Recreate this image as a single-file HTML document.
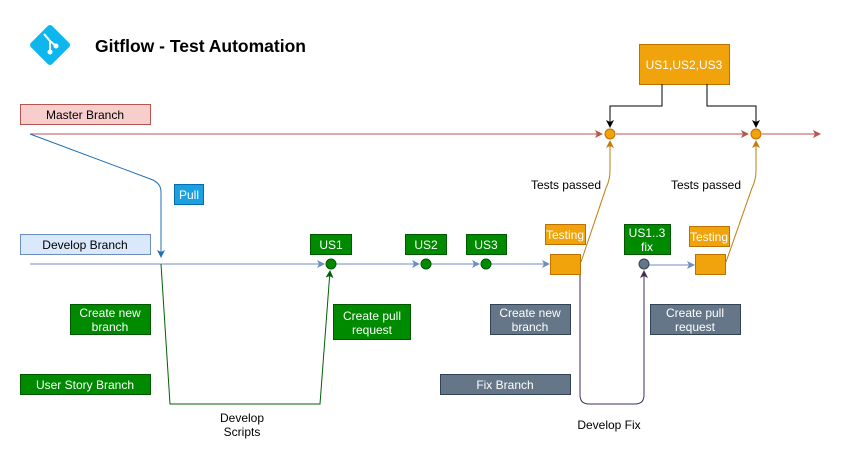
<!DOCTYPE html>
<html><head><meta charset="utf-8"><style>
body{margin:0;background:#fff;width:849px;height:460px;overflow:hidden;font-family:"Liberation Sans",Arial,sans-serif}
</style></head><body>
<svg width="849" height="460" xmlns="http://www.w3.org/2000/svg" font-family="Liberation Sans, Arial, sans-serif">
<defs>
<marker id="ar" markerWidth="8" markerHeight="8" refX="7" refY="4" orient="auto" markerUnits="userSpaceOnUse"><path d="M0,0 L8,4 L0,8 L2,4z" fill="#b85450"/></marker>
<marker id="ab" markerWidth="8" markerHeight="8" refX="7" refY="4" orient="auto" markerUnits="userSpaceOnUse"><path d="M0,0 L8,4 L0,8 L2,4z" fill="#6c8ebf"/></marker>
<marker id="abd" markerWidth="8" markerHeight="8" refX="7" refY="4" orient="auto" markerUnits="userSpaceOnUse"><path d="M0,0 L8,4 L0,8 L2,4z" fill="#1f6fb5"/></marker>
<marker id="ak" markerWidth="8" markerHeight="8" refX="7" refY="4" orient="auto" markerUnits="userSpaceOnUse"><path d="M0,0 L8,4 L0,8 L2,4z" fill="#000"/></marker>
<marker id="ao" markerWidth="8" markerHeight="8" refX="7" refY="4" orient="auto" markerUnits="userSpaceOnUse"><path d="M0,0 L8,4 L0,8 L2,4z" fill="#c37b0d"/></marker>
<marker id="ag" markerWidth="8" markerHeight="8" refX="7" refY="4" orient="auto" markerUnits="userSpaceOnUse"><path d="M0,0 L8,4 L0,8 L2,4z" fill="#006100"/></marker>
<marker id="ap" markerWidth="8" markerHeight="8" refX="7" refY="4" orient="auto" markerUnits="userSpaceOnUse"><path d="M0,0 L8,4 L0,8 L2,4z" fill="#432d57"/></marker>
</defs>
<!-- logo -->
<rect x="35" y="30" width="30" height="30" rx="3" fill="#0db7ed" transform="rotate(45 50 45)"/>
<path d="M44,34 L50,41 L50,52 M50,41 L56,46" stroke="#fff" stroke-width="2" fill="none"/>
<circle cx="50" cy="52" r="2.5" fill="#fff"/><circle cx="56" cy="46" r="2.5" fill="#fff"/>
<text x="95" y="52" font-size="17.5" font-weight="bold" fill="#000">Gitflow - Test Automation</text>
<!-- master -->
<rect x="20.5" y="104.5" width="130" height="20" fill="#f8cecc" stroke="#b85450"/>
<text x="85" y="119" font-size="12" text-anchor="middle">Master Branch</text>
<line x1="30" y1="134" x2="602" y2="134" stroke="#b85450" marker-end="url(#ar)"/>
<line x1="616" y1="134" x2="748" y2="134" stroke="#b85450" marker-end="url(#ar)"/>
<line x1="762" y1="134" x2="820" y2="134" stroke="#b85450" marker-end="url(#ar)"/>
<!-- US box -->
<rect x="639.5" y="44.5" width="90" height="40" fill="#f0a30a" stroke="#bd7000"/>
<text x="684" y="69" font-size="12" fill="#fff" text-anchor="middle">US1,US2,US3</text>
<path d="M662,84 V106 H610 V127" stroke="#000" fill="none" marker-end="url(#ak)"/>
<path d="M707,84 V106 H756 V127" stroke="#000" fill="none" marker-end="url(#ak)"/>
<circle cx="610" cy="134" r="5" fill="#f0a30a" stroke="#bd7000"/>
<circle cx="756" cy="134" r="5" fill="#f0a30a" stroke="#bd7000"/>
<!-- pull -->
<path d="M30,134 L153,180 Q161,184 161,192 V257" stroke="#1f6fb5" fill="none" marker-end="url(#abd)"/>
<rect x="174.5" y="184.5" width="29" height="20" fill="#1ba1e2" stroke="#006eaf"/>
<text x="189" y="199" font-size="12" fill="#fff" text-anchor="middle">Pull</text>
<!-- develop -->
<rect x="20.5" y="234.5" width="130" height="20" fill="#dae8fc" stroke="#6c8ebf"/>
<text x="85" y="249" font-size="12" text-anchor="middle">Develop Branch</text>
<line x1="30" y1="264" x2="324" y2="264" stroke="#6c8ebf" marker-end="url(#ab)"/>
<line x1="336" y1="264" x2="419" y2="264" stroke="#6c8ebf" marker-end="url(#ab)"/>
<line x1="431" y1="264" x2="479" y2="264" stroke="#6c8ebf" marker-end="url(#ab)"/>
<line x1="491" y1="264" x2="549" y2="264" stroke="#6c8ebf" marker-end="url(#ab)"/>
<line x1="649" y1="265" x2="694" y2="265" stroke="#6c8ebf" marker-end="url(#ab)"/>
<!-- green path -->
<path d="M161,264 L170,404 H320 L330,271" stroke="#006100" fill="none" marker-end="url(#ag)"/>
<circle cx="331" cy="264" r="5" fill="#008a00" stroke="#005700"/>
<circle cx="426" cy="264" r="5" fill="#008a00" stroke="#005700"/>
<circle cx="486" cy="264" r="5" fill="#008a00" stroke="#005700"/>
<g font-size="12" fill="#fff" text-anchor="middle">
<rect x="310.5" y="234.5" width="41" height="20" fill="#008a00" stroke="#005700"/><text x="331" y="249">US1</text>
<rect x="405.5" y="234.5" width="41" height="20" fill="#008a00" stroke="#005700"/><text x="426" y="249">US2</text>
<rect x="466.5" y="234.5" width="40" height="20" fill="#008a00" stroke="#005700"/><text x="486" y="249">US3</text>
<rect x="70.5" y="304.5" width="80" height="30" fill="#008a00" stroke="#005700"/><text x="110" y="317">Create new</text><text x="110" y="331">branch</text>
<rect x="20.5" y="374.5" width="130" height="20" fill="#008a00" stroke="#005700"/><text x="85" y="389">User Story Branch</text>
<rect x="333.5" y="304.5" width="77" height="35" fill="#008a00" stroke="#005700"/><text x="372" y="320">Create pull</text><text x="372" y="334">request</text>
<rect x="624.5" y="224.5" width="46" height="30" fill="#008a00" stroke="#005700"/><text x="647" y="237">US1..3</text><text x="647" y="251">fix</text>
<rect x="490.5" y="304.5" width="80" height="30" fill="#647687" stroke="#314354"/><text x="530" y="317">Create new</text><text x="530" y="331">branch</text>
<rect x="440.5" y="374.5" width="130" height="20" fill="#647687" stroke="#314354"/><text x="505" y="389">Fix Branch</text>
<rect x="650.5" y="304.5" width="90" height="30" fill="#647687" stroke="#314354"/><text x="695" y="317">Create pull</text><text x="695" y="331">request</text>
</g>
<text x="242" y="422" font-size="12" text-anchor="middle">Develop</text>
<text x="242" y="436" font-size="12" text-anchor="middle">Scripts</text>
<!-- purple -->
<path d="M580,264 V395 Q580,404 589,404 H635 Q644,404 644,395 V271" stroke="#432d57" fill="none" marker-end="url(#ap)"/>
<circle cx="644" cy="264" r="5" fill="#647687" stroke="#314354"/>
<text x="609" y="429" font-size="12" text-anchor="middle">Develop Fix</text>
<!-- testing -->
<path d="M581,262 L606,188 Q610,180 610,170 V141" stroke="#c37b0d" fill="none" marker-end="url(#ao)"/>
<path d="M726,262 L752,188 Q756,180 756,170 V141" stroke="#c37b0d" fill="none" marker-end="url(#ao)"/>
<rect x="550.5" y="254.5" width="30" height="20" fill="#f0a30a" stroke="#bd7000"/>
<rect x="695.5" y="254.5" width="30" height="20" fill="#f0a30a" stroke="#bd7000"/>
<rect x="545.5" y="224.5" width="40" height="20" fill="#f0a30a" stroke="#bd7000"/>
<text x="565" y="239" font-size="12" fill="#fff" text-anchor="middle">Testing</text>
<rect x="689.5" y="226.5" width="40" height="20" fill="#f0a30a" stroke="#bd7000"/>
<text x="709" y="241" font-size="12" fill="#fff" text-anchor="middle">Testing</text>
<text x="566" y="189" font-size="12" text-anchor="middle">Tests passed</text>
<text x="706" y="189" font-size="12" text-anchor="middle">Tests passed</text>
</svg>
</body></html>
